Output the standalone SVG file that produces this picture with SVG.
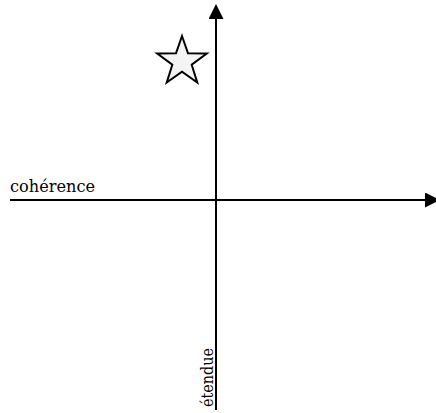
<svg xmlns="http://www.w3.org/2000/svg" width="436" height="413" viewBox="0 0 436 413">
<style>
.axis{stroke:#000;stroke-width:2;fill:none}
.lbl{font-family:"DejaVu Serif",serif;font-size:17.5px;fill:#000}
.star{fill:#f4f4f4;stroke:#000;stroke-width:2;stroke-linejoin:miter}
</style>
<defs>
<marker id="arr" viewBox="0 0 10 10" refX="0" refY="5" markerWidth="7.5" markerHeight="7.5" markerUnits="strokeWidth" orient="auto">
<path d="M0,0 L10,5 L0,10 Z" fill="#000"/>
</marker>
</defs>
<g id="connectors">
<line class="axis" x1="216" y1="410" x2="216" y2="19" marker-end="url(#arr)"/>
<line class="axis" x1="10" y1="200" x2="425" y2="200" marker-end="url(#arr)"/>
</g>
<g id="star">
<path class="star" d="M182,36 L188,53.3 L206.8,53.5 L191.7,64.7 L197.3,82.6 L182,71.8 L166.7,82.6 L172.3,64.7 L157.2,53.5 L176,53.3 Z"/>
</g>
<g id="coherence">
<text class="lbl" x="10" y="192" textLength="85" lengthAdjust="spacingAndGlyphs">cohérence</text>
</g>
<g id="etendue">
<text class="lbl" transform="translate(213,407) rotate(-90)" textLength="59" lengthAdjust="spacingAndGlyphs">étendue</text>
</g>
</svg>
